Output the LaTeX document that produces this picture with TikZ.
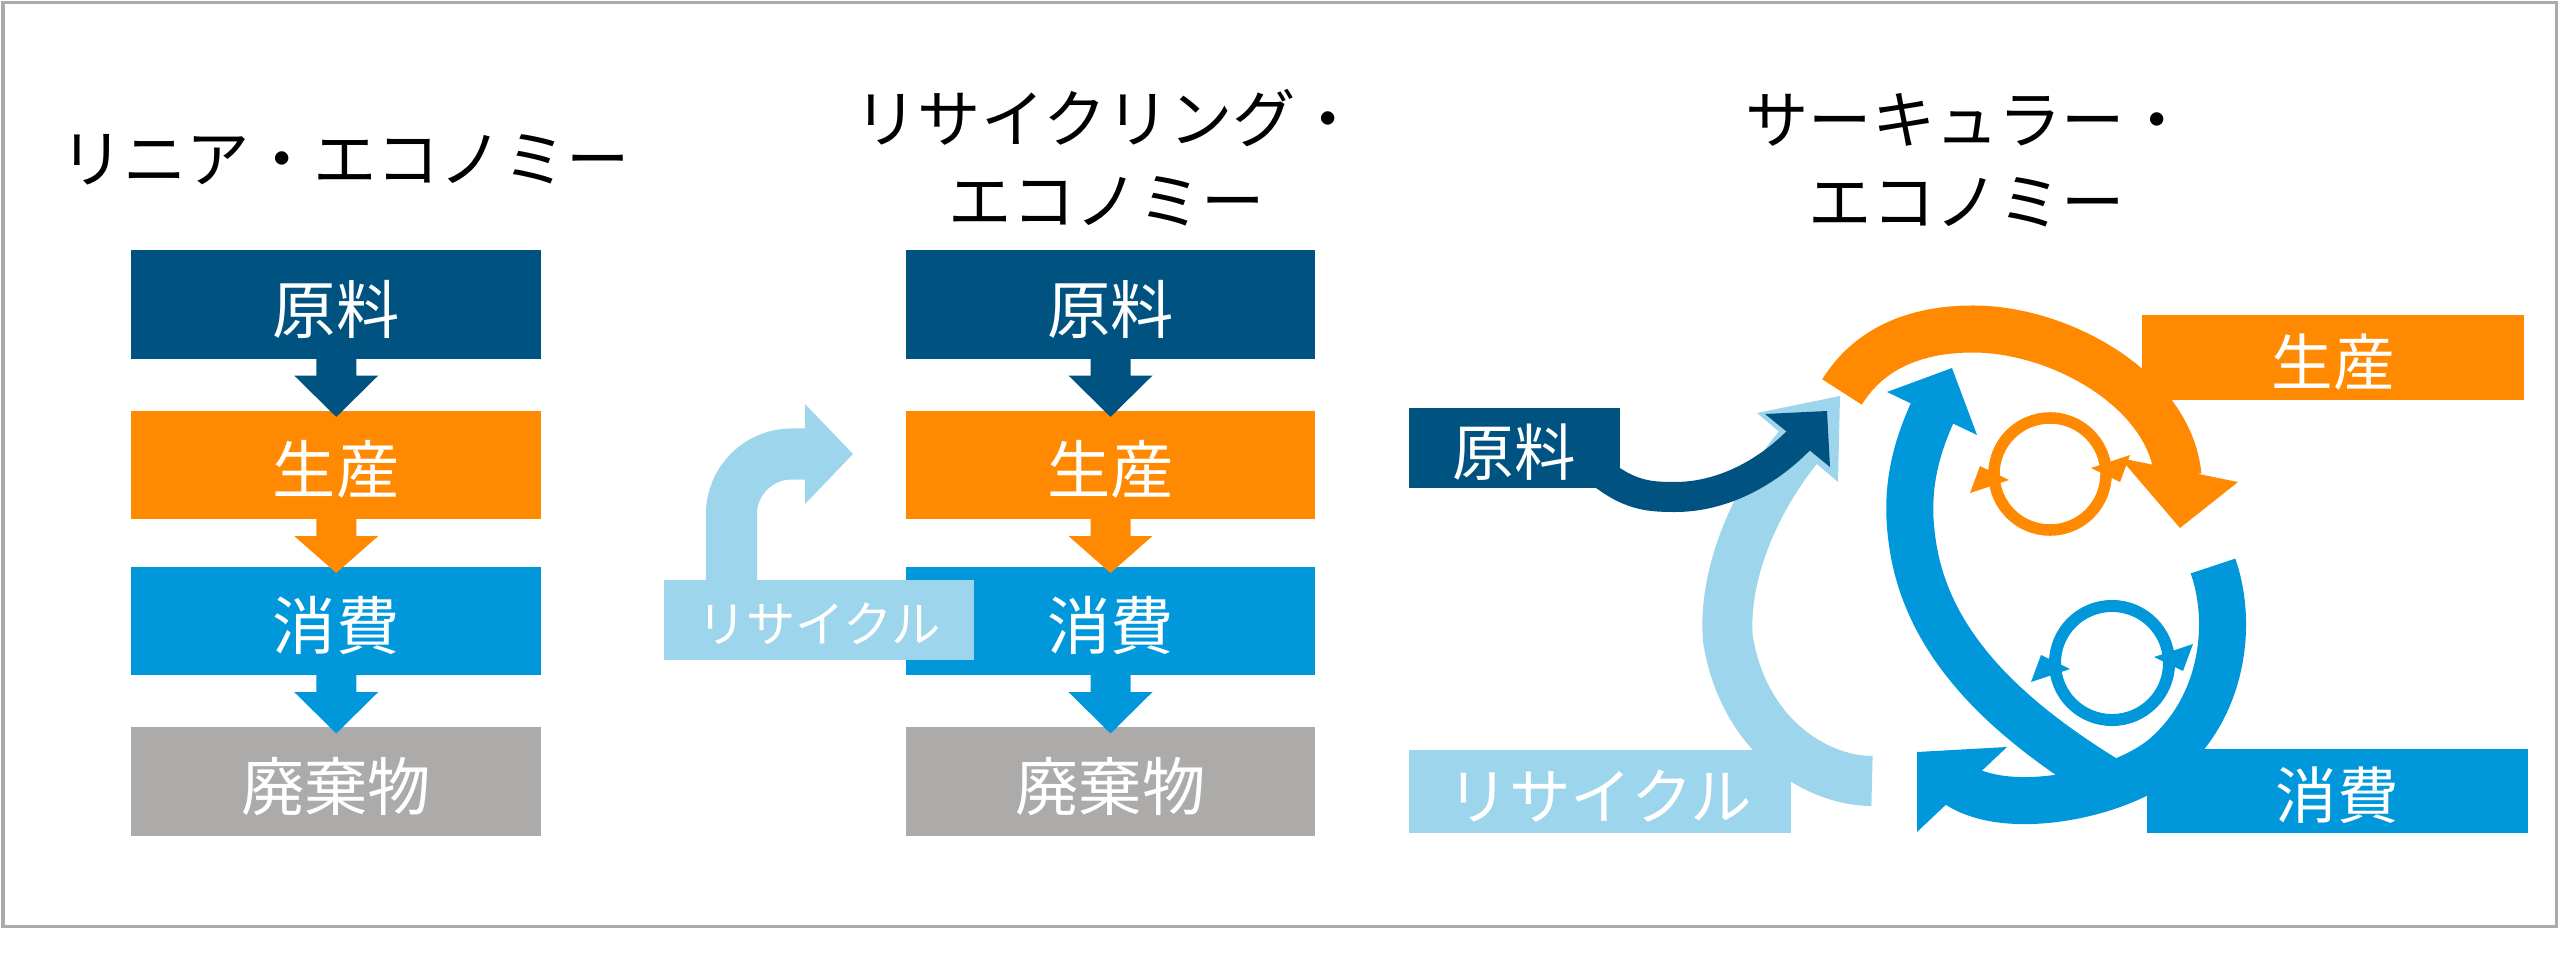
\documentclass[tikz,border=0pt]{standalone}
\usepackage{fontspec}
\setmainfont{Noto Sans CJK JP}
\usetikzlibrary{calc}
\definecolor{dblue}{RGB}{0,83,128}
\definecolor{orng}{RGB}{255,137,0}
\definecolor{cblue}{RGB}{0,152,219}
\definecolor{lblue}{RGB}{157,213,236}
\definecolor{wgray}{RGB}{173,170,170}
\definecolor{frame}{RGB}{170,170,170}
\newcommand{\fatdown}[3]{%
  \fill[#3] ($(#1.south)+(-20,-1)$) -- ($(#1.south)+(20,-1)$) -- ($(#1.south)+(20,17)$)
    -- ($(#1.south)+(42,17)$) -- ($(#2.north)+(0,6)$) -- ($(#1.south)+(-42,17)$)
    -- ($(#1.south)+(-20,17)$) -- cycle;}
\begin{document}
\begin{tikzpicture}[x=0.01cm,y=-0.01cm,
  every node/.style={inner sep=0pt,outer sep=0pt},
  ttl/.style={font=\fontsize{18pt}{23.3pt}\selectfont,text=black,align=center},
  colbox/.style={rectangle,text=white,font=\fontsize{18pt}{22pt}\selectfont,
    text height=17.2pt,text depth=0.8pt,minimum width=4.1cm,minimum height=1.08cm},
  rbox/.style={rectangle,text=white,font=\fontsize{17.5pt}{22pt}\selectfont,
    text height=16.7pt,text depth=0.8pt},
  sbox/.style={rectangle,text=white,font=\fontsize{14pt}{18pt}\selectfont,
    text height=13.4pt,text depth=0.6pt}]
\useasboundingbox (0,0) rectangle (2560,973);
% frame
\draw[frame,line width=0.03cm] (3,3) rectangle (2556,926);
% titles
\node[ttl] (T1) at (345,160) {リニア・エコノミー};
\node[ttl] (T2) at (1107,158) {リサイクリング・\\エコノミー};
\node[ttl] (T3) at (1967,160) {サーキュラー・\\エコノミー};
% left column
\node[colbox,fill=dblue] (L1) at (336.25,304.5) {原料};
\node[colbox,fill=orng]  (L2) at (336.25,465) {生産};
\node[colbox,fill=cblue] (L3) at (336.25,621) {消費};
\node[colbox,fill=wgray] (L4) at (336.25,781.5) {廃棄物};
\fatdown{L1}{L2}{dblue}
\fatdown{L2}{L3}{orng}
\fatdown{L3}{L4}{cblue}
% middle column
\node[colbox,fill=dblue,minimum width=4.09cm] (M1) at (1110.5,304.5) {原料};
\node[colbox,fill=orng,minimum width=4.09cm]  (M2) at (1110.5,465) {生産};
\node[colbox,fill=cblue,minimum width=4.09cm] (M3) at (1110.5,621) {消費};
\node[colbox,fill=wgray,minimum width=4.09cm] (M4) at (1110.5,781.5) {廃棄物};
\coordinate (rb0) at (731.5,600);
\coordinate (rb1) at (731.5,454);
\coordinate (rb2) at (810,454);
\draw[lblue,line width=0.51cm,rounded corners=0.6cm] (rb0) -- (rb1) -- (rb2);
\fill[lblue] (805,404) -- (853,454) -- (805,504) -- cycle;
\node[sbox,fill=lblue,minimum width=3.1cm,minimum height=0.8cm] (MR) at (819,620) {リサイクル};
\fatdown{M1}{M2}{dblue}
\fatdown{M2}{M3}{orng}
\fatdown{M3}{M4}{cblue}
% right diagram: recycle arc
\coordinate (la0) at (1872,781);
\coordinate (la1) at (1728,640);
\coordinate (la2) at (1800,445);
\draw[lblue,line width=0.5cm] (la0) .. controls (1820,781) and (1745,740) .. (la1)
   .. controls (1722,570) and (1760,493) .. (la2);
\fill[lblue] (1757,413) -- (1840,396) -- (1838,482) -- cycle;
% raw material arrow
\coordinate (da0) at (1588,462);
\coordinate (da1) at (1675,497);
\coordinate (da2) at (1800,439);
\draw[dblue,line width=0.3cm] (da0) .. controls (1625,495) and (1645,497) .. (da1)
   .. controls (1720,497) and (1765,475) .. (da2);
\fill[dblue] (1765,414) -- (1827,411) -- (1830,467) -- cycle;
\node[rbox,fill=dblue,minimum width=2.11cm,minimum height=0.8cm] (Craw) at (1514.5,448) {原料};
\node[rbox,fill=lblue,minimum width=3.82cm,minimum height=0.83cm] (Crec) at (1600,791.5) {リサイクル};
% production arc
\coordinate (oa0) at (1842,392);
\coordinate (oa1) at (1973,329);
\coordinate (oa2) at (2178,476);
\draw[orng,line width=0.47cm] (oa0) .. controls (1868,350) and (1913,329) .. (oa1)
   .. controls (2060,329) and (2170,390) .. (oa2);
\fill[orng] (2120,458) -- (2238,482) -- (2180,528) -- cycle;
\node[rbox,fill=orng,minimum width=3.82cm,minimum height=0.85cm] (Cprod) at (2333,357.5) {生産};
% consumption arcs
\coordinate (ba0) at (2110,782);
\coordinate (ba1) at (1912,540);
\coordinate (ba2) at (1934,409);
\draw[cblue,line width=0.47cm] (ba0) .. controls (2000,715) and (1925,640) .. (ba1)
   .. controls (1905,490) and (1915,450) .. (ba2);
\fill[cblue] (1887,392) -- (1952,368) -- (1977,435) -- cycle;
\coordinate (bb0) at (2213,566);
\coordinate (bb1) at (2170,752);
\coordinate (bb2) at (1957,784);
\draw[cblue,line width=0.47cm] (bb0) .. controls (2232,620) and (2225,700) .. (bb1)
   .. controls (2130,792) and (2010,820) .. (bb2);
\fill[cblue] (1917,752) -- (2007,747) -- (1917,832) -- cycle;
\node[rbox,fill=cblue,minimum width=3.81cm,minimum height=0.84cm] (Ccons) at (2337.5,791) {消費};
% small cycles
\coordinate (oc) at (2050,474);
\draw[orng,line width=0.115cm] (oc) circle[radius=0.56cm];
\fill[orng] ($(oc)+(-70,-8)$) -- ($(oc)+(-41,6)$) -- ($(oc)+(-80,19)$) -- cycle;
\fill[orng] ($(oc)+(70,8)$) -- ($(oc)+(41,-6)$) -- ($(oc)+(80,-19)$) -- cycle;
\coordinate (bc) at (2112,663);
\draw[cblue,line width=0.12cm] (bc) circle[radius=0.57cm];
\fill[cblue] ($(bc)+(-71,-8)$) -- ($(bc)+(-42,6)$) -- ($(bc)+(-81,19)$) -- cycle;
\fill[cblue] ($(bc)+(71,8)$) -- ($(bc)+(42,-6)$) -- ($(bc)+(81,-19)$) -- cycle;
\end{tikzpicture}
\end{document}
